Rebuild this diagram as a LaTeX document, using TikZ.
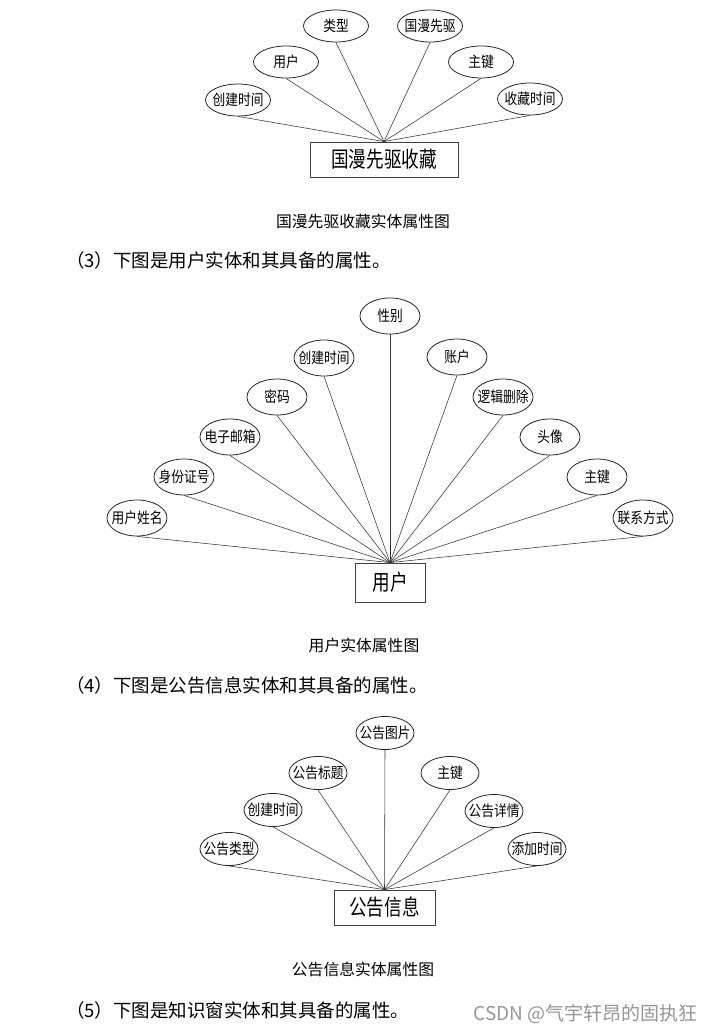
\documentclass[tikz,border=0pt]{standalone}
\usepackage{fontspec}
\setmainfont{Noto Sans CJK SC}
\newfontfamily\cjkc[FakeStretch=0.85]{Noto Sans CJK SC}
\newfontfamily\cjkb[FakeStretch=0.8]{Noto Sans CJK SC}
\usetikzlibrary{shapes.geometric}
\newcommand{\zb}[1]{\makebox[0pt]{#1}}
\definecolor{wmgray}{RGB}{150,150,150}
\tikzset{
  attr/.style={ellipse, draw=black!85, line width=0.8pt, inner sep=0pt,
    font=\cjkc\fontsize{15}{17}\selectfont},
  attrA/.style={attr, minimum width=65pt, minimum height=32pt},
  attrB/.style={attr, minimum width=60pt, minimum height=36pt},
  attrC/.style={attr, minimum width=58pt, minimum height=33pt},
  entity/.style={rectangle, draw=black!75, line width=0.8pt, inner sep=0pt,
    font=\cjkb\fontsize{22}{24}\selectfont},
  link/.style={draw=black!80, line width=0.55pt},
  para/.style={anchor=west, inner sep=0pt, font=\fontsize{18.5}{20}\selectfont},
  caption/.style={inner sep=0pt, font=\fontsize{15.8}{18}\selectfont},
}
\begin{document}
\begin{tikzpicture}[x=1pt,y=-1pt]
\useasboundingbox[fill=white] (0,0) rectangle (714,1032);

% ---------- Diagram 1 ----------
\node[entity, minimum width=148pt, minimum height=35pt] (e1) at (384,159.5) {国漫先驱收藏};
\node[attrA] (a11) at (336,26) {\zb{类型}};
\node[attrA] (a12) at (430,26) {\zb{国漫先驱}};
\node[attrA] (a13) at (286,62) {\zb{用户}};
\node[attrA] (a14) at (481,62) {\zb{主键}};
\node[attrA] (a15) at (238,100) {\zb{创建时间}};
\node[attrA] (a16) at (530,99) {\zb{收藏时间}};
\foreach \a in {a11,a12,a13,a14,a15,a16}
  \draw[link] (\a.south) -- (e1.north);
\node[caption] (c1) at (363,221) {国漫先驱收藏实体属性图};

\node[para] (p3) at (66,260) {（3）下图是用户实体和其具备的属性。};

% ---------- Diagram 2 ----------
\node[entity, minimum width=70pt, minimum height=39pt] (e2) at (390,582.5) {用户};
\node[attrB] (a21) at (390,316) {\zb{性别}};
\node[attrB] (a22) at (324,358) {\zb{创建时间}};
\node[attrB] (a23) at (457,357) {\zb{账户}};
\node[attrB] (a24) at (277,397) {\zb{密码}};
\node[attrB] (a25) at (503,397) {\zb{逻辑删除}};
\node[attrB] (a26) at (230,437) {\zb{电子邮箱}};
\node[attrB] (a27) at (550,437) {\zb{头像}};
\node[attrB] (a28) at (184,477) {\zb{身份证号}};
\node[attrB] (a29) at (597,477) {\zb{主键}};
\node[attrB] (a2a) at (137,518) {\zb{用户姓名}};
\node[attrB] (a2b) at (643,518) {\zb{联系方式}};
\foreach \a in {a21,a22,a23,a24,a25,a26,a27,a28,a29,a2a,a2b}
  \draw[link] (\a.south) -- (e2.north);
\node[caption] (c2) at (364,645) {用户实体属性图};

\node[para] (p4) at (66,685) {（4）下图是公告信息实体和其具备的属性。};

% ---------- Diagram 3 ----------
\node[entity, minimum width=101pt, minimum height=35pt] (e3) at (384.5,907.5) {公告信息};
\node[attrC] (a31) at (385,733) {\zb{公告图片}};
\node[attrC] (a32) at (318,773) {\zb{公告标题}};
\node[attrC] (a33) at (450,773) {\zb{主键}};
\node[attrC] (a34) at (273,810) {\zb{创建时间}};
\node[attrC] (a35) at (494,811) {\zb{公告详情}};
\node[attrC] (a36) at (229,849) {\zb{公告类型}};
\node[attrC] (a37) at (537,849) {\zb{添加时间}};
\foreach \a in {a31,a32,a33,a34,a35,a36,a37}
  \draw[link] (\a.south) -- (e3.north);
\node[caption] (c3) at (363,969) {公告信息实体属性图};

\node[para] (p5) at (66,1010) {（5）下图是知识窗实体和其具备的属性。};

\node[anchor=east, inner sep=0pt, text=wmgray, font=\fontsize{19}{21}\selectfont] (wm) at (698,1014) {CSDN @气宇轩昂的固执狂};
\end{tikzpicture}
\end{document}
